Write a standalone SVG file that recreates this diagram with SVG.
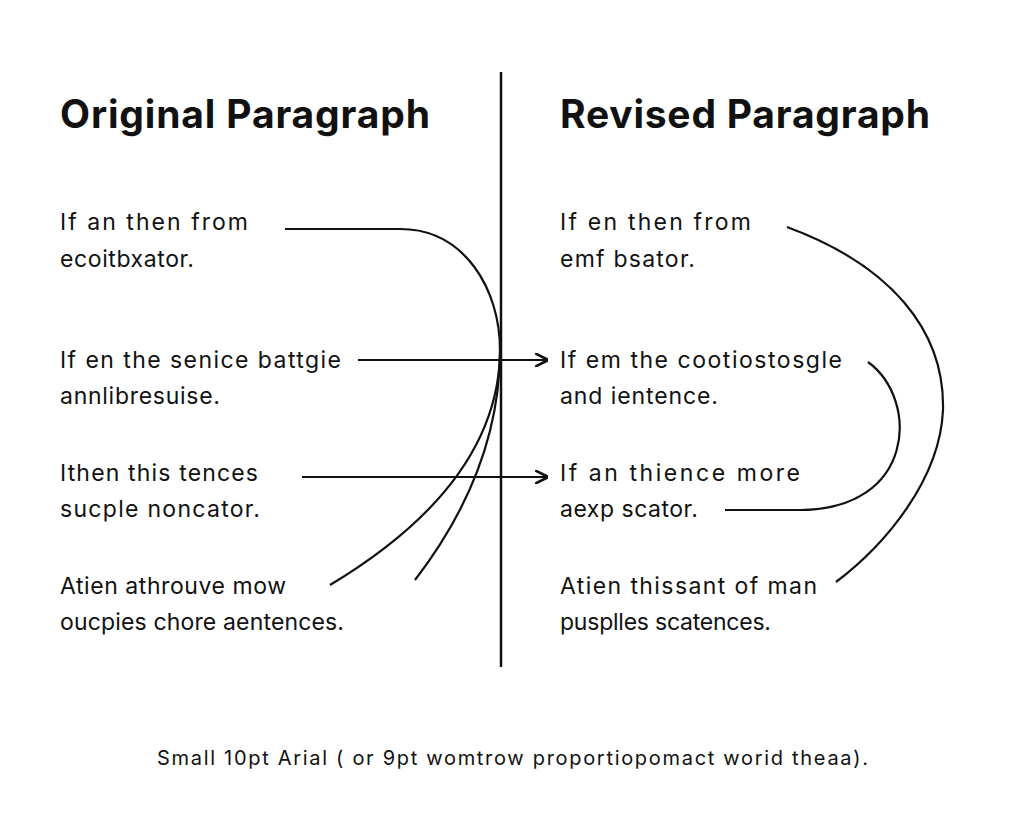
<svg xmlns="http://www.w3.org/2000/svg" width="1024" height="818" viewBox="0 0 1024 818">
<style>
.h{font-family:"Inter","Liberation Sans",sans-serif;font-weight:700;font-size:39px;fill:#111}
.t{font-family:"Inter","Liberation Sans",sans-serif;font-size:23px;fill:#111}
.f{font-family:"Inter","Liberation Sans",sans-serif;font-size:20px;fill:#111}
.c{fill:none;stroke:#111;stroke-width:2.2}
</style>
<defs><marker id="a" viewBox="0 0 10 10" refX="9" refY="5" markerWidth="6" markerHeight="6" orient="auto"><path d="M0,0 L10,5 L0,10" fill="none" stroke="#111" stroke-width="2"/></marker></defs>
<rect width="1024" height="818" fill="#fff"/>
<g id="divider"><line x1="501" y1="72" x2="501" y2="667" stroke="#111" stroke-width="2.5"/></g>
<g id="left">
<text class="h" x="60" y="128" textLength="370">Original Paragraph</text>
<text class="t" x="60" y="230" textLength="188">If an then from</text>
<text class="t" x="60" y="267" textLength="134">ecoitbxator.</text>
<text class="t" x="60" y="368" textLength="281">If en the senice battgie</text>
<text class="t" x="60" y="404" textLength="160">annlibresuise.</text>
<text class="t" x="60" y="481" textLength="198">Ithen this tences</text>
<text class="t" x="60" y="517" textLength="200">sucple noncator.</text>
<text class="t" x="60" y="594" textLength="226">Atien athrouve mow</text>
<text class="t" x="60" y="630" textLength="284">oucpies chore aentences.</text>
</g>
<g id="right">
<text class="h" x="560" y="128" textLength="370">Revised Paragraph</text>
<text class="t" x="560" y="230" textLength="191">If en then from</text>
<text class="t" x="560" y="267" textLength="135">emf bsator.</text>
<text class="t" x="560" y="368" textLength="282">If em the cootiostosgle</text>
<text class="t" x="560" y="404" textLength="158">and ientence.</text>
<text class="t" x="560" y="481" textLength="240">If an thience more</text>
<text class="t" x="560" y="517" textLength="138">aexp scator.</text>
<text class="t" x="560" y="594" textLength="257">Atien thissant of man</text>
<text class="t" x="560" y="630" textLength="211">pusplles scatences.</text>
</g>
<g id="footer"><text class="f" x="157" y="765" textLength="711">Small 10pt Arial (  or 9pt womtrow proportiopomact worid theaa).</text></g>
<g id="connectors">
<path class="c" d="M285,229 L400,229 C465,229 500,290 500,350 C500,440 465,515 415,580"/>
<path class="c" d="M500,355 C497,450 430,525 330,585"/>
<path class="c" d="M358,360 L547,360" marker-end="url(#a)"/>
<path class="c" d="M302,477 L547,477" marker-end="url(#a)"/>
<path class="c" d="M787,227 C890,265 945,330 943,410 C940,480 885,545 836,582"/>
<path class="c" d="M868,362 C920,400 915,510 800,510 L725,510"/>
</g>
</svg>
